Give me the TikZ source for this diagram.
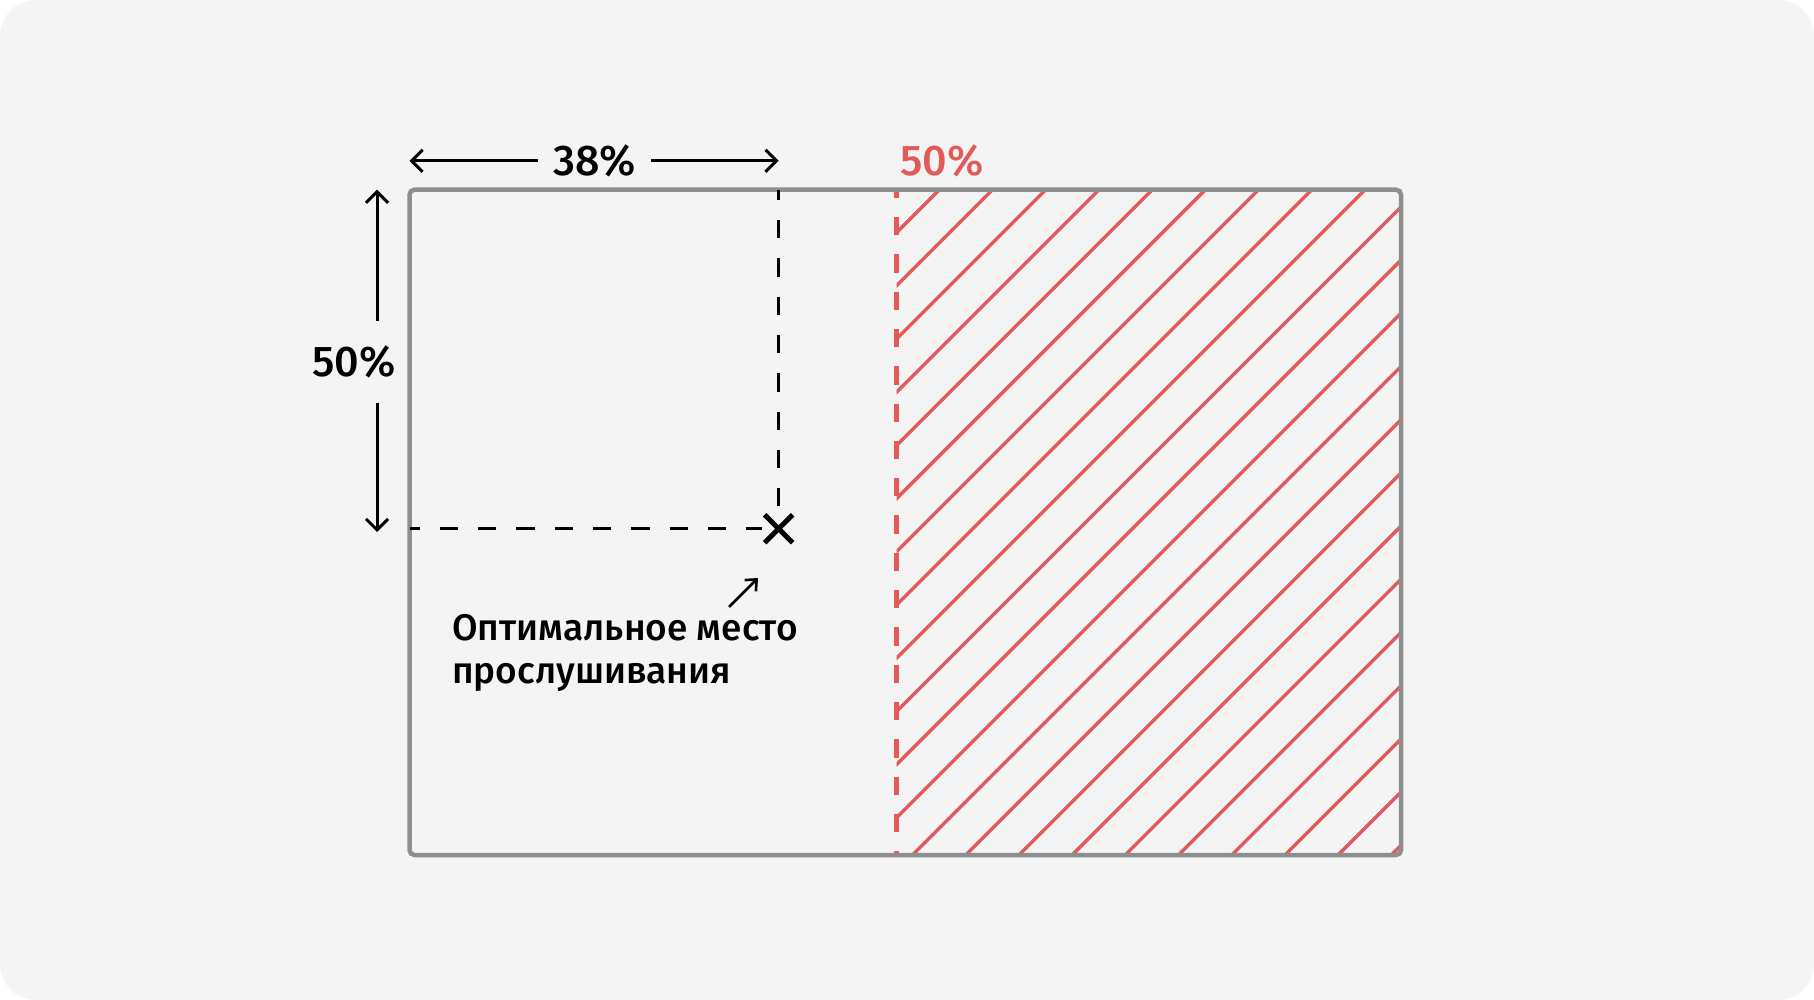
\documentclass[tikz,border=0pt]{standalone}
\usepackage{fontspec}
\setmainfont{Fira Sans}[UprightFont=* Medium]
\usetikzlibrary{arrows.meta,calc}
\definecolor{bgc}{HTML}{F4F4F4}
\definecolor{framec}{HTML}{8E8E8E}
\definecolor{redc}{HTML}{E25A5A}
\tikzset{
  dimarrow/.style={line width=3pt, -{Straight Barb[length=11pt,width=22pt,line width=3pt]}},
  blackdash/.style={line width=3.3pt, dash pattern=on 18.3pt off 20pt, dash phase=8pt},
  reddash/.style={line width=5.5pt, redc, dash pattern=on 18.3pt off 19pt, dash phase=10pt},
  hatchline/.style={line width=3.4pt, redc},
  lbl/.style={inner sep=0pt, font=\fontsize{43}{50}\selectfont},
}
\begin{document}
\begin{tikzpicture}[x=1pt,y=-1pt]
\useasboundingbox (0,0) rectangle (1814,1000);
\fill[white] (0,0) rectangle (1814,1000);
\fill[bgc, rounded corners=36pt] (0,0) rectangle (1814,1000);
% key coordinates
\coordinate (tl) at (409.5,189.7);
\coordinate (br) at (1401,855);
\coordinate (xm) at (778.6,528.7);
\coordinate (rtop) at (896.6,189.7);
\coordinate (rbot) at (896.6,855);
% hatch
\begin{scope}
\clip (896.6,189.7) rectangle (1401,855);
\foreach \i in {0,...,22}{
  \pgfmathsetmacro{\c}{1129.1+53.2*\i}
  \draw[hatchline] (\c-855-20,855+20) -- (\c-189.7+20,189.7-20);
}
\end{scope}
\draw[reddash] (rtop) -- (rbot);
% frame
\draw[framec, line width=4.5pt, rounded corners=5pt] (tl) rectangle (br);
% black dashed guides
\coordinate (vtop) at (778.6,189.7);
\coordinate (hleft) at (409.5,528.7);
\draw[blackdash] (vtop) -- ($(xm)+(0,-17)$);
\draw[blackdash] (hleft) -- ($(xm)+(-17,0)$);
% X mark
\draw[line width=5pt] ($(xm)+(-14,-14)$) -- ($(xm)+(14,14)$);
\draw[line width=5pt] ($(xm)+(-14,14)$) -- ($(xm)+(14,-14)$);
\node (xmark) at (xm) {};
% top dimension
\node[lbl, inner xsep=15pt] (p38) at (594.6,160.8) {38\%};
\coordinate (a38l) at (409.5,160.8);
\coordinate (a38r) at (778.6,160.8);
\draw[dimarrow] (p38.west) -- (a38l);
\draw[dimarrow] (p38.east) -- (a38r);
% left dimension
\node[lbl, minimum height=82pt] (p50l) at (354,362) {50\%};
\coordinate (a50t) at (377,189.7);
\coordinate (a50b) at (377,532);
\draw[dimarrow] (a50t |- p50l.north) -- (a50t);
\draw[dimarrow] (a50b |- p50l.south) -- (a50b);
% red label
\node[lbl, text=redc, anchor=west] (p50r) at (900,160.8) {50\%};
% annotation
\node[inner sep=0pt, anchor=north west, align=left, font=\fontsize{37}{43}\selectfont] (note) at (452,614) {Оптимальное место\\прослушивания};
\coordinate (sa) at (729,607);
\coordinate (sb) at (758,578);
\draw[line width=2.6pt, -{Straight Barb[length=9pt,width=16pt,line width=2.6pt]}] (sa) -- (sb);
\end{tikzpicture}
\end{document}
